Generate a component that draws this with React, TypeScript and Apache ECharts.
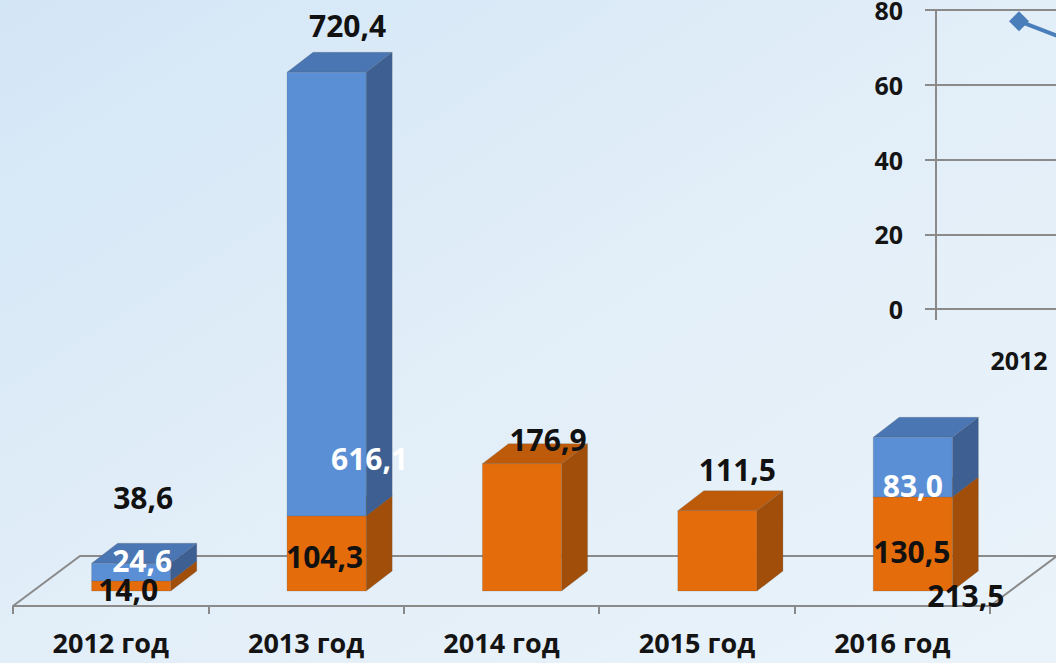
import React, { useEffect, useRef } from 'react';
import * as echarts from 'echarts';

// ---- data ----
const categories = ['2012 год', '2013 год', '2014 год', '2015 год', '2016 год'];
const orangeValues = [14.0, 104.3, 176.9, 111.5, 130.5];
const blueValues = [24.6, 616.1, 0, 0, 83.0];
const totalValues = [38.6, 720.4, 176.9, 111.5, 213.5];

const insetYears = ['2012', '2013'];
const insetValues = [77, 60];

// ---- label nudges (layout only) ----
const totalNudge = [[-1, -28], [8, -9], [13, 14], [7, -3], [40, 196]];
const blueNudge = [[11, -12], [43, 164], [0, 0], [0, 0], [0, 18]];
const orangeNudge = [[-3, 4], [-2, 3.5], [0, 0], [0, 0], [-1, 7]];

const FONT = '"Open Sans", "Noto Sans", sans-serif';
const OFFX = 20.5; // bars stand back on floor
const OFFY = -15;
const DX = 26; // 3D depth
const DY = 20;
const BAR_FRAC = 0.405;

const fmt = (v: number) => v.toFixed(1).replace('.', ',');

function box(api: any, i: number, base: number, v: number, colors: string[]) {
  const p0 = api.coord([i, base]);
  const p1 = api.coord([i, base + v]);
  const bw = api.size([1, 0])[0] * BAR_FRAC;
  const cx = p0[0] + OFFX;
  const y0 = p0[1] + OFFY;
  const y1 = p1[1] + OFFY;
  const l = cx - bw / 2;
  const r = cx + bw / 2;
  const edge = { stroke: 'rgba(90,90,90,0.35)', lineWidth: 0.6 };
  return {
    type: 'group',
    children: [
      {
        type: 'polygon',
        shape: { points: [[r, y0], [r + DX, y0 - DY], [r + DX, y1 - DY], [r, y1]] },
        style: { fill: colors[1], ...edge },
      },
      {
        type: 'polygon',
        shape: { points: [[l, y1], [r, y1], [r + DX, y1 - DY], [l + DX, y1 - DY]] },
        style: { fill: colors[2], ...edge },
      },
      {
        type: 'rect',
        shape: { x: l, y: y1, width: bw, height: y0 - y1 },
        style: { fill: colors[0], ...edge },
      },
    ],
  };
}

const ORANGE = ['#e46c0a', '#a04e0a', '#bd5b0b'];
const BLUE = ['#5a8fd6', '#3d5f92', '#4a76b3'];

export default function App() {
  const ref = useRef<HTMLDivElement>(null);
  useEffect(() => {
    if (!ref.current) return;
    const chart = echarts.init(ref.current, undefined, { renderer: 'svg' });

    const lblStyle = (text: string, fill: string) => ({
      text,
      fill,
      font: `bold 30px ${FONT}`,
      align: 'center',
      verticalAlign: 'middle',
    });

    const option: any = {
      animation: false,
      backgroundColor: new echarts.graphic.LinearGradient(0, 0, 1, 1, [
        { offset: 0, color: '#d3e6f6' },
        { offset: 0.5, color: '#e2eef8' },
        { offset: 1, color: '#eaf3fa' },
      ]),
      textStyle: { fontFamily: FONT },
      grid: [
        { left: 13, right: 66, top: 30, bottom: 57, outerBoundsMode: 'none' },
        { left: 936, top: 10, width: 332, height: 299, outerBoundsMode: 'none' },
      ],
      xAxis: [
        {
          type: 'category',
          gridIndex: 0,
          data: categories,
          axisLine: { show: true, lineStyle: { color: '#8a8a8a', width: 2 } },
          axisTick: { show: true, length: 8, lineStyle: { color: '#8a8a8a', width: 2 } },
          axisLabel: { margin: 23, fontSize: 27, fontWeight: 'bold', color: '#141414', fontFamily: FONT },
        },
        {
          type: 'category',
          gridIndex: 1,
          data: insetYears,
          axisLine: { show: true, lineStyle: { color: '#8a8a8a', width: 2 } },
          axisTick: { show: true, length: 11, lineStyle: { color: '#8a8a8a', width: 2 } },
          axisLabel: { margin: 38, fontSize: 25, fontWeight: 'bold', color: '#141414', fontFamily: FONT },
        },
      ],
      yAxis: [
        { type: 'value', gridIndex: 0, min: 0, max: 800, show: false },
        {
          type: 'value',
          gridIndex: 1,
          min: 0,
          max: 80,
          interval: 20,
          axisLine: { show: true, lineStyle: { color: '#8a8a8a', width: 2 } },
          axisTick: { show: true, length: 11, lineStyle: { color: '#8a8a8a', width: 2 } },
          splitLine: { show: true, lineStyle: { color: '#8a8a8a', width: 2 } },
          axisLabel: { margin: 33, fontSize: 25, fontWeight: 'bold', color: '#141414', fontFamily: FONT },
        },
      ],
      graphic: [
        {
          type: 'polyline',
          z: 1,
          shape: { points: [[13, 606], [80, 556], [1060, 556]] },
          style: { stroke: '#8a8a8a', lineWidth: 2, fill: 'none' },
        },
        {
          type: 'line',
          z: 1,
          shape: { x1: 990, y1: 606, x2: 1057, y2: 556 },
          style: { stroke: '#8a8a8a', lineWidth: 2 },
        },
      ],
      series: [
        {
          type: 'custom',
          name: 'orange',
          xAxisIndex: 0,
          yAxisIndex: 0,
          z: 3,
          data: orangeValues.map((v, i) => [i, 0, v]),
          encode: { x: 0, y: 2 },
          renderItem: (params: any, api: any) =>
            box(api, api.value(0), api.value(1), api.value(2), ORANGE),
        },
        {
          type: 'custom',
          name: 'blue',
          xAxisIndex: 0,
          yAxisIndex: 0,
          z: 4,
          data: blueValues.map((v, i) => [i, orangeValues[i], v]),
          encode: { x: 0, y: 2 },
          renderItem: (params: any, api: any) => {
            const v = api.value(2);
            if (!v) return null;
            return box(api, api.value(0), api.value(1), v, BLUE);
          },
        },
        {
          type: 'custom',
          name: 'labels',
          xAxisIndex: 0,
          yAxisIndex: 0,
          z: 10,
          data: categories.map((_, i) => [i, orangeValues[i], blueValues[i], totalValues[i]]),
          encode: { x: 0, y: 3 },
          renderItem: (params: any, api: any) => {
            const i = api.value(0);
            const o = api.value(1);
            const b = api.value(2);
            const t = api.value(3);
            const pBase = api.coord([i, 0]);
            const pO = api.coord([i, o]);
            const pT = api.coord([i, o + b]);
            const cx = pBase[0] + OFFX;
            const yBase = pBase[1] + OFFY;
            const yO = pO[1] + OFFY;
            const yT = pT[1] + OFFY;
            const children: any[] = [];
            children.push({
              type: 'text',
              x: cx + 13 + totalNudge[i][0],
              y: yT - 38 + totalNudge[i][1],
              style: lblStyle(fmt(t), '#111'),
            });
            if (b) {
              children.push({
                type: 'text',
                x: cx + blueNudge[i][0],
                y: (yO + yT) / 2 + blueNudge[i][1],
                style: lblStyle(fmt(b), '#ffffff'),
              });
              children.push({
                type: 'text',
                x: cx + orangeNudge[i][0],
                y: (yBase + yO) / 2 + orangeNudge[i][1],
                style: lblStyle(fmt(o), '#111'),
              });
            }
            return { type: 'group', children };
          },
        },
        {
          type: 'line',
          name: 'inset',
          xAxisIndex: 1,
          yAxisIndex: 1,
          data: insetValues,
          symbol: 'diamond',
          symbolSize: 20,
          itemStyle: { color: '#4a7ebb' },
          lineStyle: { color: '#4a7ebb', width: 4 },
          z: 5,
        },
      ],
    };
    chart.setOption(option);
    return () => chart.dispose();
  }, []);

  return (
    <div
      ref={ref}
      style={{ position: 'fixed', left: 0, top: 0, width: 1056, height: 663 }}
    />
  );
}
